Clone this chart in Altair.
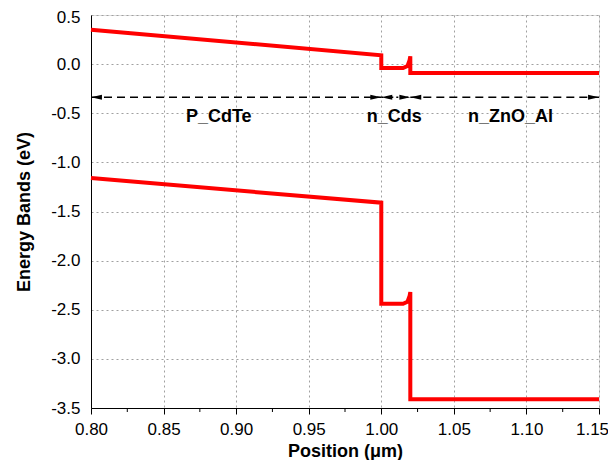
import altair as alt
import pandas as pd

# Conduction band
cb_x = [0.80, 1.00, 1.00, 1.015, 1.018, 1.0195, 1.02, 1.02, 1.15]
cb_y = [0.35, 0.09, -0.04, -0.04, -0.02, 0.04, 0.08, -0.09, -0.09]
# Valence band
vb_x = [0.80, 1.00, 1.00, 1.015, 1.018, 1.0195, 1.02, 1.02, 1.15]
vb_y = [-1.16, -1.41, -2.44, -2.44, -2.42, -2.36, -2.32, -3.41, -3.41]

# Regions
region_names = ["P_CdTe", "n_Cds", "n_ZnO_Al"]
region_start = [0.80, 1.00, 1.02]
region_end = [1.00, 1.02, 1.15]
region_style = ["dash", "dot", "dash"]
region_label_x = [0.888, 1.009, 1.089]
arrow_y = -0.338
label_y = -0.54

x_ticks = [0.80, 0.85, 0.90, 0.95, 1.00, 1.05, 1.10, 1.15]
minor_ticks = [0.825, 0.875, 0.925, 0.975, 1.025, 1.075, 1.125]
y_ticks = [0.5, 0.0, -0.5, -1.0, -1.5, -2.0, -2.5, -3.0, -3.5]

FONT = "Liberation Sans"

rows = []
for i, (x, y) in enumerate(zip(cb_x, cb_y)):
    rows.append({"band": "CB", "x": x, "y": y, "o": i})
for i, (x, y) in enumerate(zip(vb_x, vb_y)):
    rows.append({"band": "VB", "x": x, "y": y, "o": i})
bands = pd.DataFrame(rows)

regions = pd.DataFrame({
    "name": region_names, "x0": region_start, "x1": region_end,
    "style": region_style, "lx": region_label_x,
    "ay": [arrow_y] * 3, "ly": [label_y] * 3,
})

heads = pd.DataFrame({
    "x": region_start + region_end,
    "y": [arrow_y] * 6,
    "dir": ["left"] * 3 + ["right"] * 3,
})

xscale = alt.Scale(domain=[0.8, 1.15], nice=False, zero=False)
yscale = alt.Scale(domain=[-3.5, 0.5], nice=False, zero=False)

xaxis = alt.Axis(
    values=x_ticks, format=".2f", title="Position (\u03bcm)",
    labelFont=FONT, labelFontSize=17, labelColor="black", labelPadding=7,
    labelOffset={"condition": {"test": "datum.value > 1.149", "value": -7}, "value": 0},
    titleFont=FONT, titleFontSize=18, titleFontWeight="bold", titleColor="black",
    titlePadding=5, tickSize=6, tickColor="black", domainColor="black",
    grid=True, gridColor="#a0a0a0", gridDash=[2, 3], gridWidth=1,
    labelFlush=False,
)
yaxis = alt.Axis(
    values=y_ticks, title="Energy Bands (eV)",
    labelExpr="replace(format(datum.value, '.1f'), '\u2212', '-')",
    labelOffset={"condition": {"test": "datum.value > 0.49", "value": 2}, "value": 0},
    labelFont=FONT, labelFontSize=17, labelColor="black", labelPadding=11,
    titleFont=FONT, titleFontSize=18, titleFontWeight="bold", titleColor="black",
    titlePadding=17, ticks=False, domainColor="black",
    grid=True, gridColor="#a0a0a0", gridDash=[2, 3], gridWidth=1,
    labelFlush=False,
)

lines = alt.Chart(bands).mark_line(
    color="#ff0000", strokeWidth=4, strokeJoin="miter", strokeCap="butt"
).encode(
    x=alt.X("x:Q", scale=xscale, axis=xaxis),
    y=alt.Y("y:Q", scale=yscale, axis=yaxis),
    detail="band:N",
    order="o:Q",
)

dash_rules = alt.Chart(regions).mark_rule(color="black", strokeWidth=1.5).encode(
    x="x0:Q", x2="x1:Q", y="ay:Q",
    strokeDash=alt.StrokeDash("style:N", scale=alt.Scale(domain=["dash", "dot"], range=[[8, 5], [2, 3]]), legend=None),
)

left_heads = alt.Chart(heads).transform_filter("datum.dir == 'left'").mark_point(
    shape="M0,0 L2,-0.45 L2,0.45 Z", filled=True, color="black", opacity=1, size=120
).encode(x="x:Q", y="y:Q")
right_heads = alt.Chart(heads).transform_filter("datum.dir == 'right'").mark_point(
    shape="M0,0 L-2,-0.45 L-2,0.45 Z", filled=True, color="black", opacity=1, size=120
).encode(x="x:Q", y="y:Q")

labels = alt.Chart(regions).mark_text(
    font=FONT, fontSize=18, fontWeight="bold", color="black", baseline="middle"
).encode(x="lx:Q", y="ly:Q", text="name:N")

minor = alt.Chart(pd.DataFrame({"x": minor_ticks})).mark_rule(color="black", strokeWidth=1).encode(
    x="x:Q", y=alt.value(393), y2=alt.value(397)
)

chart = alt.layer(lines, dash_rules, left_heads, right_heads, labels, minor).properties(
    width=508, height=393,
    autosize=alt.AutoSizeParams(type="none"),
    padding={"left": 83, "top": 7, "right": 9, "bottom": 52},
).configure_view(stroke="black", strokeWidth=1).configure(background="white")

chart.save("out.html", embed_options={"renderer": "svg", "actions": False})
